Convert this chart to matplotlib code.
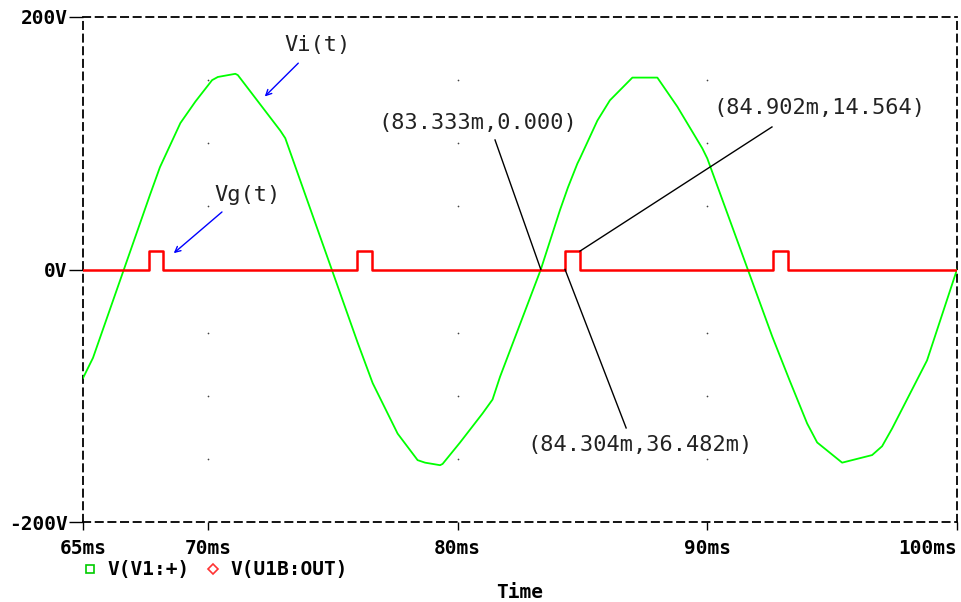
import numpy as np
import matplotlib
matplotlib.use('Agg')
import matplotlib.pyplot as plt

# Vi(t) trace, simulation points (ms, V)
vi_t = [65.0, 65.4, 67.68, 68.08, 68.9, 69.5, 70.17, 70.4, 71.1, 71.2, 72.9, 73.1,
        76.0, 76.6, 77.6, 78.4, 78.7, 79.3, 79.4, 80.1, 81.0, 81.4, 81.7, 83.333,
        84.1, 84.42, 84.8, 84.9, 85.6, 86.1, 87.0, 88.0, 88.8, 89.8, 90.0,
        92.6, 93.3, 94.0, 94.4, 95.4, 96.6, 97.0, 97.4, 98.8, 100.0]
vi_v = [-86, -70, 59, 81, 116, 133, 150, 152.5, 155, 154, 110, 104,
        -58, -90, -130, -151, -153, -155, -154, -137, -114, -103, -85, 0,
        47, 65, 84, 88, 118, 134, 152, 152, 129, 96, 88,
        -53, -88, -122, -137, -153, -147, -140, -126, -72, 0]

# Vg(t) gate pulses (ms)
pulse_on = [67.64, 75.97, 84.304, 92.64]
pulse_off = [68.22, 76.57, 84.902, 93.22]
pulse_h = 14.564

# cursor readouts: (text, text pos, line start, line end)
cursor_txt = ["(83.333m,0.000)", "(84.902m,14.564)", "(84.304m,36.482m)"]
cursor_txt_xy = [(76.81, 116), (90.23, 128), (82.78, -139)]
cursor_line_from = [(81.5, 102.6), (92.59, 112.9), (86.75, -125.5)]
cursor_line_to = [(83.333, 0.0), (84.902, 14.564), (84.304, 0.036)]

xticks = [65, 70, 80, 90, 100]
xtick_labels = ["65ms", "70ms", "80ms", "90ms", "100ms"]
yticks = [-200, 0, 200]
ytick_labels = ["-200V", "0V", "200V"]

# build red step trace
vg_t = [65.0]
vg_v = [0.0]
for a, b in zip(pulse_on, pulse_off):
    vg_t += [a, a, b, b]
    vg_v += [0.0, pulse_h, pulse_h, 0.0]
vg_t.append(100.0)
vg_v.append(0.0)

mono = 'DejaVu Sans Mono'
lab_fs = 14
ann_fs = 15.8

fig = plt.figure(figsize=(9.61, 6.02), dpi=100)
ax = fig.add_axes([83 / 961, 80 / 602, 874 / 961, 505 / 602])

ax.plot(vi_t, vi_v, color='#00ff00', lw=1.3, zorder=3)
ax.plot(vg_t, vg_v, color='#ff0000', lw=1.8, zorder=4)

# dotted grid points
gx, gy = np.meshgrid([70, 80, 90], [-150, -100, -50, 50, 100, 150])
ax.scatter(gx.ravel(), gy.ravel(), s=1.5, color='#444444', zorder=2, linewidths=0)

ax.set_xlim(65, 100)
ax.set_ylim(-200, 200)
ax.set_xticks(xticks)
ax.set_xticklabels(xtick_labels, fontfamily=mono, fontweight='bold', fontsize=lab_fs)
ax.get_xticklabels()[-1].set_horizontalalignment('right')
ax.set_yticks(yticks)
ax.set_yticklabels(ytick_labels, fontfamily=mono, fontweight='bold', fontsize=lab_fs)
ax.tick_params(axis='x', direction='out', length=6, width=1, pad=6)
ax.tick_params(axis='y', direction='out', length=10, width=1, pad=1)
for sp in ax.spines.values():
    sp.set_linestyle((0, (4, 3)))
    sp.set_linewidth(1.3)

# signal labels with blue arrows
ax.annotate("", xy=(72.2, 135.5), xytext=(73.7, 165),
            arrowprops=dict(arrowstyle='->', color='#0000ff', lw=1.0))
ax.text(73.05, 178, "Vi(t)", fontsize=ann_fs, fontfamily=mono, va='center',
        ha='left', color='#222222')
ax.annotate("", xy=(68.55, 11.5), xytext=(70.65, 47),
            arrowprops=dict(arrowstyle='->', color='#0000ff', lw=1.0))
ax.text(70.25, 59, "Vg(t)", fontsize=ann_fs, fontfamily=mono, va='center',
        ha='left', color='#222222')

# cursor readouts
for txt, pos, p0, p1 in zip(cursor_txt, cursor_txt_xy, cursor_line_from, cursor_line_to):
    ax.plot([p0[0], p1[0]], [p0[1], p1[1]], color='black', lw=1.0, zorder=5)
    ax.text(pos[0], pos[1], txt, fontsize=ann_fs, fontfamily=mono, va='center',
            ha='left', color='#222222')

# legend row under the axes
leg_y = 1 - 569 / 602
ax.plot([90 / 961], [leg_y], marker='s', ms=6, mfc='none', mec='#00cc00', mew=1.2,
        transform=fig.transFigure, clip_on=False)
fig.text(107 / 961, leg_y, "V(V1:+)", fontfamily=mono, fontweight='bold',
         fontsize=lab_fs, ha='left', va='center')
ax.plot([213 / 961], [leg_y], marker='D', ms=5, mfc='none', mec='#ff3333', mew=1.2,
        transform=fig.transFigure, clip_on=False)
fig.text(230 / 961, leg_y, "V(U1B:OUT)", fontfamily=mono, fontweight='bold',
         fontsize=lab_fs, ha='left', va='center')
fig.text(520 / 961, 1 - 592 / 602, "Time", fontfamily=mono, fontweight='bold',
         fontsize=lab_fs, ha='center', va='center')

fig.savefig("out.png", dpi=100)
